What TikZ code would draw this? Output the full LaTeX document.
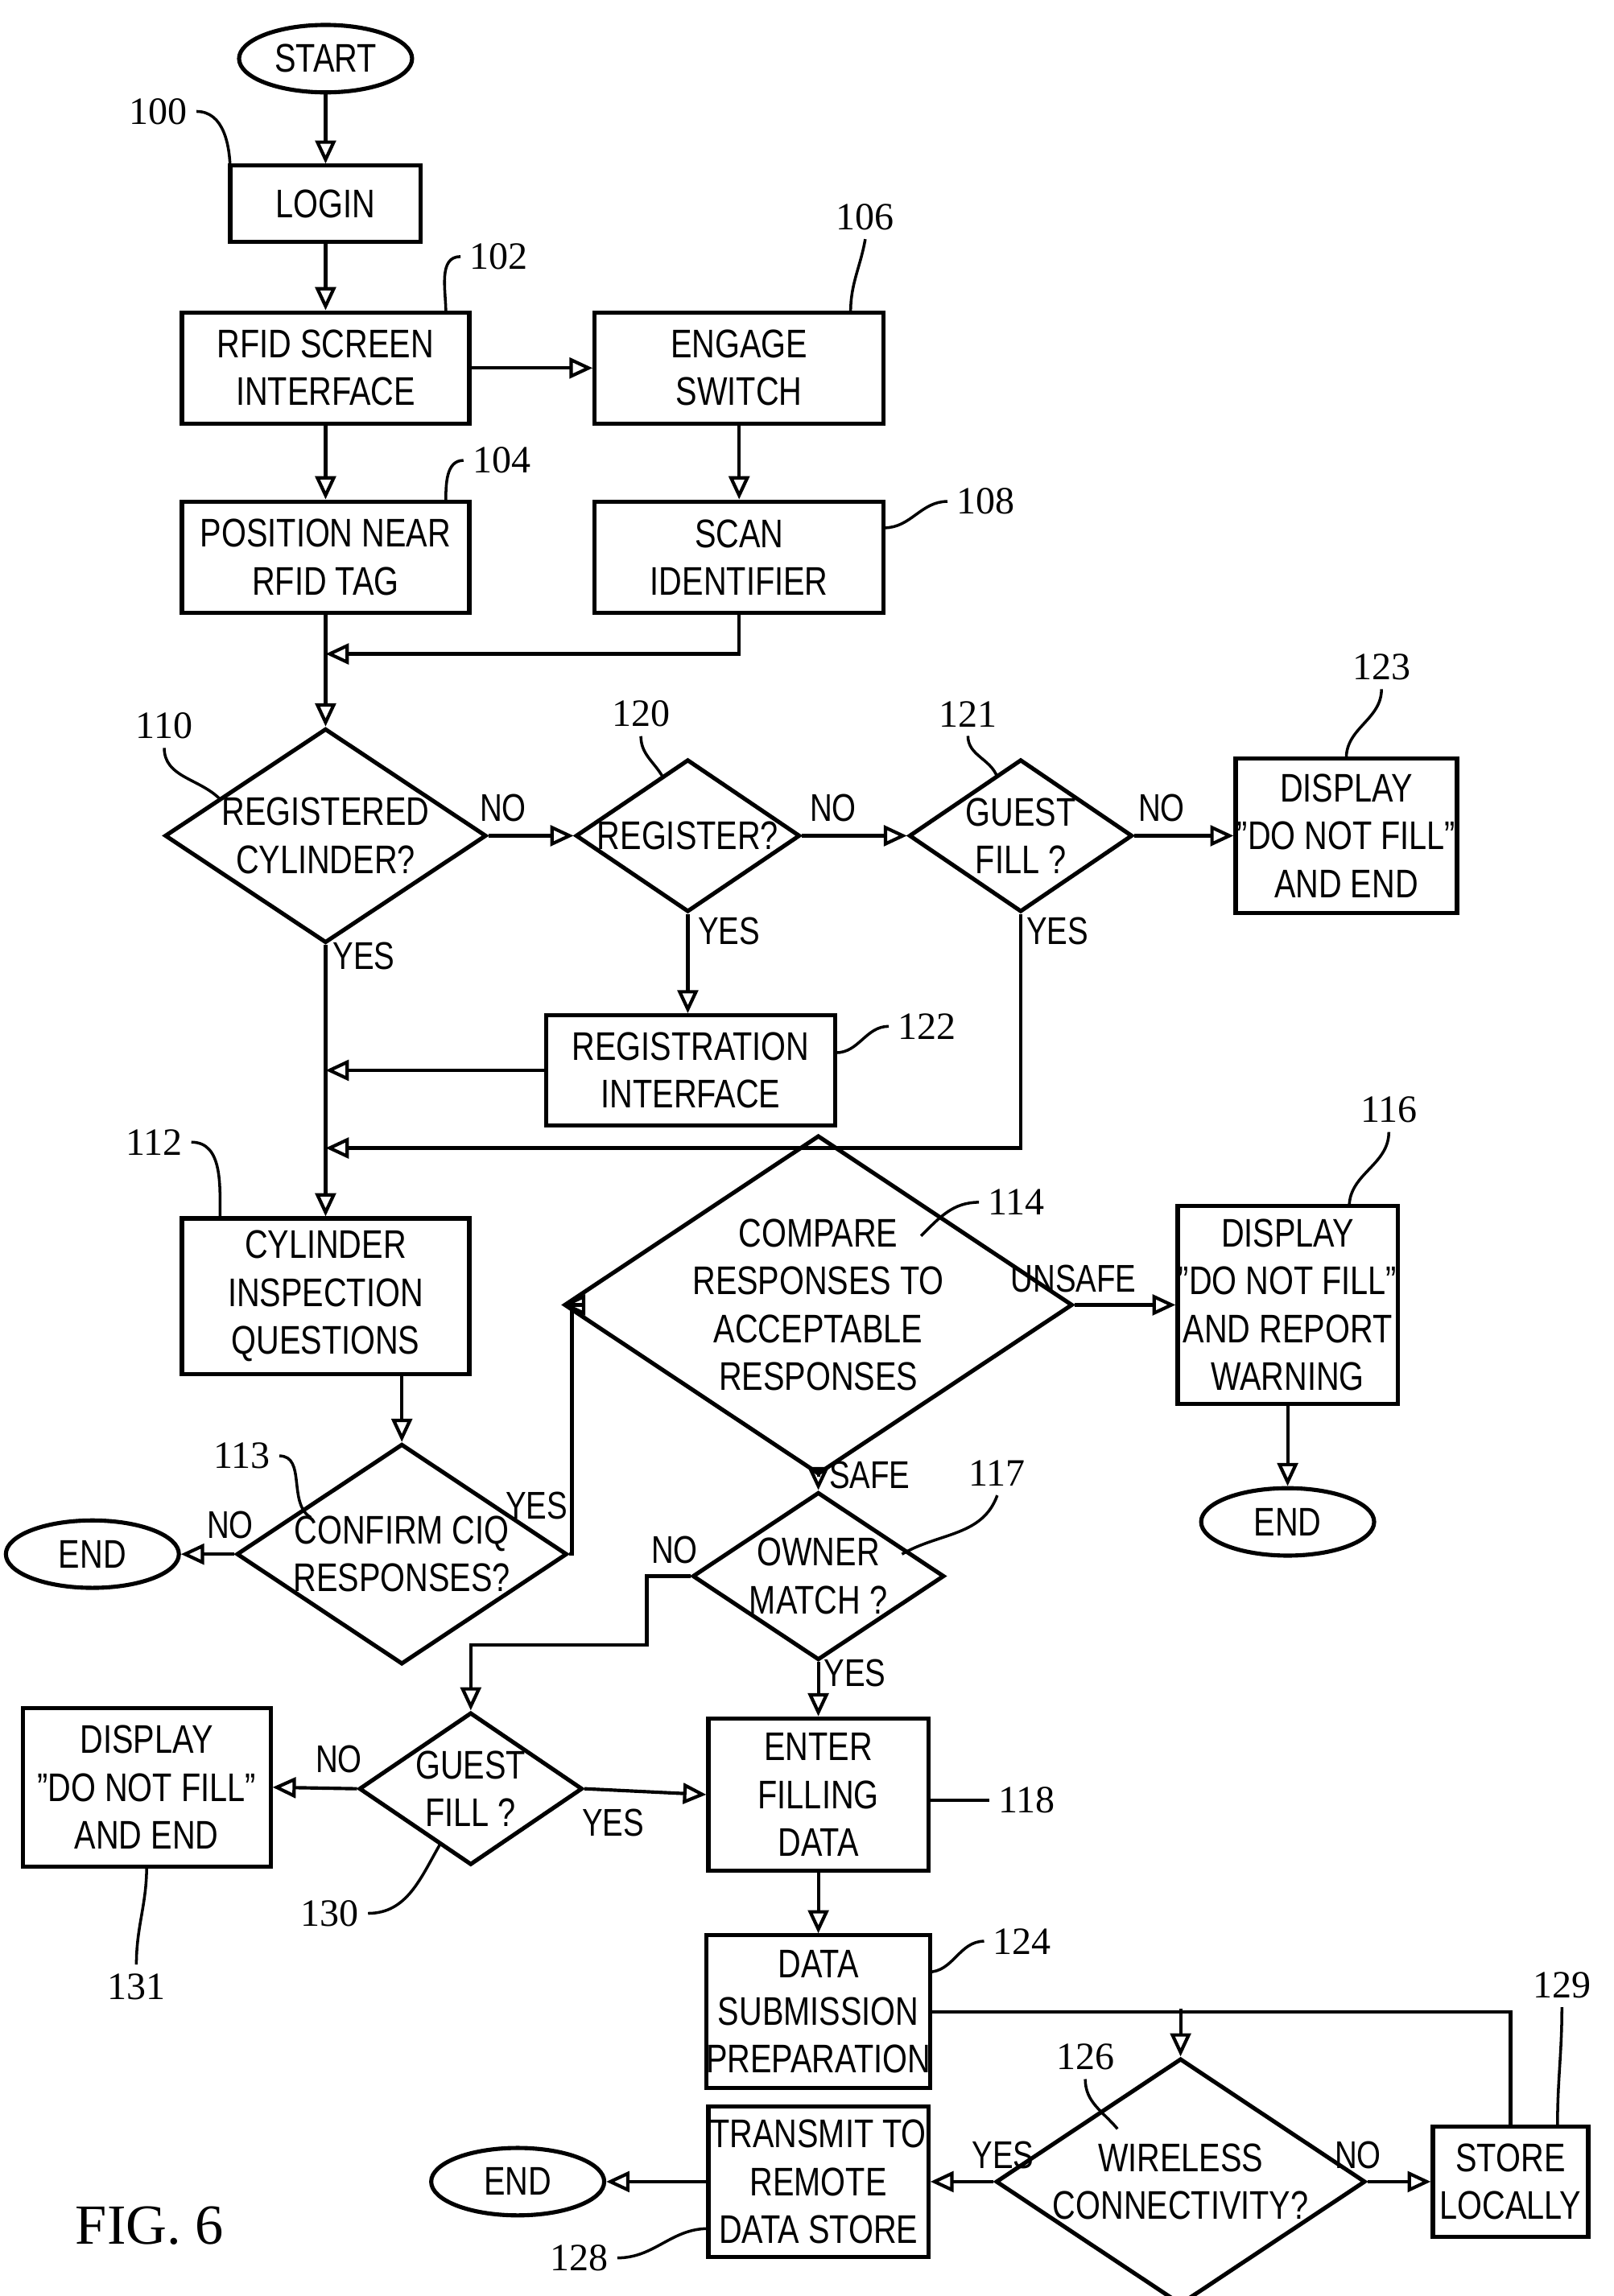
\documentclass[tikz,border=0pt]{standalone}
\usepackage{fontspec}
\setmainfont{Liberation Sans}[FakeStretch=0.8]
\newfontfamily\numfont{Liberation Serif}
\usetikzlibrary{arrows.meta,shapes.geometric}
\tikzset{
  box/.style={draw, line width=1.6pt, align=center, inner sep=0pt},
  dia/.style={draw, diamond, aspect=1.5, line width=1.6pt, align=center, inner sep=0pt},
  term/.style={draw, ellipse, line width=1.6pt, minimum width=2.36cm, minimum height=0.92cm, inner sep=0pt},
  flow/.style={line width=1.3pt, -{Triangle[open,length=9pt,width=8pt]}},
  line/.style={line width=1.3pt},
  ref/.style={font=\numfont\fontsize{15}{17}\selectfont},
  lead/.style={line width=1.1pt},
  tag/.style={font=\fontsize{15}{17}\selectfont}
}
\begin{document}
\begin{tikzpicture}[x=0.02cm, y=-0.02cm, font=\fontsize{15.5}{18.5}\selectfont]
  \useasboundingbox (0,0) rectangle (1100,1566);
  % main column
  \node[term] (start) at (222,40) {START};
  \node[box, minimum width=2.6cm, minimum height=1.04cm] (login) at (222,139) {LOGIN};
  \node[box, minimum width=3.92cm, minimum height=1.52cm] (rfid) at (222,251) {RFID SCREEN\\INTERFACE};
  \node[box, minimum width=3.94cm, minimum height=1.52cm] (engage) at (504,251) {ENGAGE\\SWITCH};
  \node[box, minimum width=3.92cm, minimum height=1.52cm] (position) at (222,380) {POSITION NEAR\\RFID TAG};
  \node[box, minimum width=3.94cm, minimum height=1.52cm] (scan) at (504,380) {SCAN\\IDENTIFIER};
  \coordinate (merge1) at (222,446);
  \node[dia, minimum width=4.04cm, minimum height=2.68cm] (regcyl) at (222,570) {REGISTERED\\CYLINDER?};
  \node[dia, minimum width=3.06cm, minimum height=2.08cm] (register) at (469,570) {REGISTER?};
  \node[dia, minimum width=3.04cm, minimum height=2.08cm] (guest1) at (696,570) {GUEST\\FILL ?};
  \node[box, minimum width=3.02cm, minimum height=2.1cm] (dnf1) at (918,570) {DISPLAY\\"DO NOT FILL"\\AND END};
  \node[box, minimum width=3.94cm, minimum height=1.5cm] (regint) at (471,730) {REGISTRATION\\INTERFACE};
  \coordinate (merge2) at (222,730);
  \coordinate (merge3) at (222,783);
  \node[box, minimum width=3.92cm, minimum height=2.12cm] (ciq) at (222,884) {CYLINDER\\INSPECTION\\QUESTIONS};
  \node[dia, minimum width=5.22cm, minimum height=3.48cm] (compare) at (558,890) {COMPARE\\RESPONSES TO\\ACCEPTABLE\\RESPONSES};
  \node[box, minimum width=3.0cm, minimum height=2.7cm] (dnf2) at (878,890) {DISPLAY\\"DO NOT FILL"\\AND REPORT\\WARNING};
  \node[term] (end2) at (878,1038) {END};
  \node[dia, minimum width=4.02cm, minimum height=2.68cm] (confirm) at (274,1060) {CONFIRM CIQ\\RESPONSES?};
  \node[term] (end1) at (63,1060) {END};
  \node[dia, minimum width=3.0cm, minimum height=2.0cm] (owner) at (558,1075) {OWNER\\MATCH ?};
  \node[dia, minimum width=3.04cm, minimum height=2.08cm] (guest2) at (321,1220) {GUEST\\FILL ?};
  \node[box, minimum width=3.38cm, minimum height=2.16cm] (dnf3) at (100,1219) {DISPLAY\\"DO NOT FILL"\\AND END};
  \node[box, minimum width=3.0cm, minimum height=2.08cm] (enter) at (558,1224) {ENTER\\FILLING\\DATA};
  \node[box, minimum width=3.0cm, minimum height=2.08cm] (prep) at (558,1372) {DATA\\SUBMISSION\\PREPARATION};
  \node[dia, minimum width=4.0cm, minimum height=2.66cm] (wireless) at (805,1488) {WIRELESS\\CONNECTIVITY?};
  \node[box, minimum width=2.12cm, minimum height=1.5cm] (store) at (1030,1488) {STORE\\LOCALLY};
  \node[box, minimum width=3.0cm, minimum height=2.06cm] (transmit) at (558,1488) {TRANSMIT TO\\REMOTE\\DATA STORE};
  \node[term] (end3) at (353,1488) {END};
  \coordinate (loop) at (805,1370);
  % connectors
  \draw[flow] (start) -- (login);
  \draw[flow] (login) -- (rfid);
  \draw[flow] (rfid) -- (engage);
  \draw[flow] (rfid) -- (position);
  \draw[flow] (engage) -- (scan);
  \draw[line] (position) -- (merge1);
  \draw[flow] (scan.south) |- (merge1);
  \draw[flow] (merge1) -- (regcyl.north);
  \draw[flow] (regcyl.east) -- (register.west);
  \draw[flow] (register.east) -- (guest1.west);
  \draw[flow] (guest1.east) -- (dnf1.west);
  \draw[flow] (register.south) -- (regint.north -| register.south);
  \draw[flow] (regint.west) -- (merge2);
  \draw[flow] (guest1.south) |- (merge3);
  \draw[flow] (regcyl.south) -- (ciq.north);
  \draw[flow] (ciq.south -| confirm.north) -- (confirm.north);
  \draw[flow] (confirm.west) -- (end1.east);
  \draw[flow] (confirm.east) -- (390,1060) |- (compare.west);
  \draw[flow] (compare.east) -- (dnf2.west);
  \draw[flow] (dnf2.south) -- (end2.north);
  \draw[flow] (compare.south) -- (owner.north);
  \draw[flow] (owner.west) -- (441,1075) -- (441,1122) -| (guest2.north);
  \draw[flow] (owner.south) -- (enter.north);
  \draw[flow] (guest2.west) -- (dnf3.east);
  \draw[flow] (guest2.east) -- (enter.west);
  \draw[flow] (enter) -- (prep);
  \draw[line] (store.north) |- (prep.east);
  \draw[flow] (loop) -- (wireless.north);
  \draw[flow] (wireless.east) -- (store.west);
  \draw[flow] (wireless.west) -- (transmit.east);
  \draw[flow] (transmit.west) -- (end3.east);
  % branch tags
  \node[tag] (t1) at (343,551) {NO};
  \node[tag] (t2) at (568,551) {NO};
  \node[tag] (t3) at (792,551) {NO};
  \node[tag] (t4) at (248,652) {YES};
  \node[tag] (t5) at (497,635) {YES};
  \node[tag] (t6) at (721,635) {YES};
  \node[tag] (t7) at (732,872) {UNSAFE};
  \node[tag] (t8) at (593,1006) {SAFE};
  \node[tag] (t9) at (157,1040) {NO};
  \node[tag] (t10) at (366,1027) {YES};
  \node[tag] (t11) at (460,1057) {NO};
  \node[tag] (t12) at (583,1141) {YES};
  \node[tag] (t13) at (231,1200) {NO};
  \node[tag] (t14) at (418,1243) {YES};
  \node[tag] (t15) at (684,1470) {YES};
  \node[tag] (t16) at (926,1470) {NO};
  % reference numbers
  \node[ref] (r100) at (108,76) {100};
  \node[ref] (r102) at (340,175) {102};
  \node[ref] (r106) at (590,148) {106};
  \node[ref] (r104) at (342,314) {104};
  \node[ref] (r108) at (672,342) {108};
  \node[ref] (r110) at (112,495) {110};
  \node[ref] (r120) at (437,487) {120};
  \node[ref] (r121) at (660,487) {121};
  \node[ref] (r123) at (942,455) {123};
  \node[ref] (r122) at (632,700) {122};
  \node[ref] (r112) at (105,779) {112};
  \node[ref] (r114) at (693,820) {114};
  \node[ref] (r116) at (947,757) {116};
  \node[ref] (r113) at (165,993) {113};
  \node[ref] (r117) at (680,1005) {117};
  \node[ref] (r130) at (225,1305) {130};
  \node[ref] (r131) at (93,1355) {131};
  \node[ref] (r118) at (700,1228) {118};
  \node[ref] (r124) at (697,1324) {124};
  \node[ref] (r126) at (740,1403) {126};
  \node[ref] (r129) at (1065,1354) {129};
  \node[ref] (r128) at (395,1540) {128};
  \node[font=\numfont\fontsize{22}{26}\selectfont] (fig) at (102,1518) {FIG. 6};
  % leaders
  \draw[lead] (r100.east) to[out=0,in=90] (157,118);
  \draw[lead] (r102.west) to[out=180,in=90] (304,213);
  \draw[lead] (r106.south) to[out=-100,in=90] (580,213);
  \draw[lead] (r104.west) to[out=180,in=90] (304,342);
  \draw[lead] (r108.west) to[out=180,in=0] (603,360);
  \draw[lead] (r110.south) to[out=-90,in=135] (150,545);
  \draw[lead] (r120.south) to[out=-90,in=120] (452,530);
  \draw[lead] (r121.south) to[out=-90,in=110] (680,530);
  \draw[lead] (r123.south) to[out=-90,in=90] (918,517);
  \draw[lead] (r122.west) to[out=180,in=0] (570,718);
  \draw[lead] (r112.east) to[out=0,in=90] (150,831);
  \draw[lead] (r114.west) to[out=180,in=45] (628,843);
  \draw[lead] (r116.south) to[out=-90,in=90] (920,823);
  \draw[lead] (r113.east) to[out=0,in=150] (212,1035);
  \draw[lead] (r117.south) to[out=-110,in=30] (615,1060);
  \draw[lead] (r130.east) to[out=0,in=-120] (300,1258);
  \draw[lead] (r131.north) to[out=90,in=-90] (100,1273);
  \draw[lead] (r118.west) to[out=180,in=0] (633,1228);
  \draw[lead] (r124.west) to[out=180,in=0] (633,1345);
  \draw[lead] (r126.south) to[out=-90,in=130] (762,1452);
  \draw[lead] (r129.south) to[out=-90,in=90] (1062,1450);
  \draw[lead] (r128.east) to[out=0,in=180] (483,1520);
\end{tikzpicture}
\end{document}
